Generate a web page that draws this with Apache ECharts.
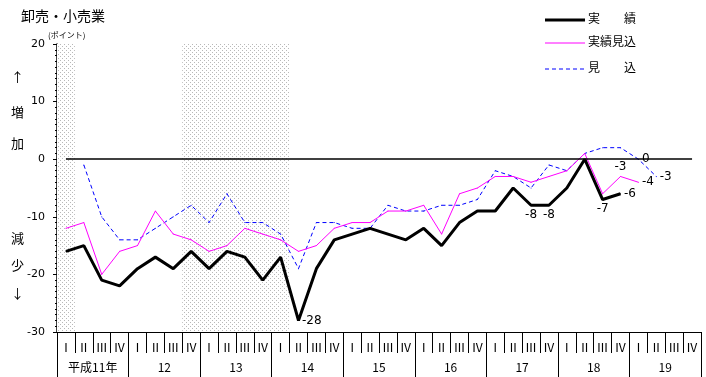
<!DOCTYPE html>
<html>
<head>
<meta charset="utf-8">
<script src="https://cdn.jsdelivr.net/npm/echarts@6/dist/echarts.min.js"></script>
<style>
    html, body { margin: 0; padding: 0; background: #fff; }
    #main { width: 706px; height: 377px; }
</style>
</head>
<body>
<div id="main"></div>
<script>
// 四半期・年のラベル
var quarterNames = ['Ⅰ', 'Ⅱ', 'Ⅲ', 'Ⅳ'];
var yearNames = ['平成11年', '12', '13', '14', '15', '16', '17', '18', '19'];

// 実績 (平成11年Ⅰ ～ 18年Ⅳ)
var jisseki = [-16, -15, -21, -22, -19, -17, -19, -16, -19, -16, -17, -21, -17, -28, -19, -14,
    -13, -12, -13, -14, -12, -15, -11, -9, -9, -5, -8, -8, -5, 0, -7, -6];
// 実績見込 (平成11年Ⅰ ～ 19年Ⅰ)
var jissekiMikomi = [-12, -11, -20, -16, -15, -9, -13, -14, -16, -15, -12, -13, -14, -16, -15, -12,
    -11, -11, -9, -9, -8, -13, -6, -5, -3, -3, -4, -3, -2, 1, -6, -3, -4];
// 見込 (平成11年Ⅱ ～ 19年Ⅱ)
var mikomi = [null, -1, -10, -14, -14, -12, -10, -8, -11, -6, -11, -11, -13, -19, -11, -11,
    -12, -12, -8, -9, -9, -8, -8, -7, -2, -3, -5, -1, -2, 1, 2, 2, 0, -3];

// 網掛け (後退期) 四半期の番号で [開始, 終了)
var shadeRanges = [[0, 1], [7, 13]];

// 数値ラベルを付ける点
var jissekiLabels = { 13: 'right', 26: 'bottom', 27: 'bottom', 30: 'bottom', 31: 'right' };
var jissekiMikomiLabels = { 31: 'top', 32: 'right' };
var mikomiLabels = { 32: 'right', 33: 'right' };

var FONT = '"Noto Sans CJK JP", "DejaVu Sans", sans-serif';

var categories = [];
yearNames.forEach(function () {
    quarterNames.forEach(function (q) { categories.push(q); });
});

function withLabels(values, labels) {
    return values.map(function (v, i) {
        if (labels[i]) {
            return {
                value: v,
                label: {
                    show: true, position: labels[i], distance: 3,
                    formatter: '{c}', color: '#000', fontSize: 12,
                    fontFamily: '"DejaVu Sans", sans-serif'
                }
            };
        }
        return v;
    });
}

// 点々の網掛けパターン
function dotPattern() {
    var c = document.createElement('canvas');
    c.width = 4; c.height = 4;
    var ctx = c.getContext('2d');
    ctx.fillStyle = '#fff';
    ctx.fillRect(0, 0, 4, 4);
    ctx.fillStyle = '#b8b8b8';
    ctx.fillRect(0, 0, 1, 1);
    ctx.fillRect(2, 2, 1, 1);
    return c;
}

var myChart = echarts.init(document.getElementById('main'), null, { renderer: 'canvas' });

function sideText(text, x, y) {
    return {
        text: text, left: x, top: y,
        textStyle: { fontSize: 13, fontWeight: 'normal', color: '#000', fontFamily: FONT }
    };
}

// 凡例 (線と文字)
function legendItem(y, name, style) {
    return [{
        type: 'line',
        shape: { x1: 545, y1: y, x2: 585, y2: y },
        style: style
    }, {
        type: 'text',
        left: 588, top: y - 8,
        style: { text: name, fill: '#000', font: '12px ' + FONT }
    }];
}

var option = {
    animation: false,
    backgroundColor: '#fff',
    title: [{
        text: '卸売・小売業', left: 16, top: 4,
        textStyle: { fontSize: 14, fontWeight: 'normal', color: '#000', fontFamily: FONT }
    }, {
        text: '(ポイント)', left: 43, top: 26,
        textStyle: { fontSize: 8, fontWeight: 'normal', color: '#000', fontFamily: FONT }
    },
        sideText('↑', 6, 66),
        sideText('増', 6, 101),
        sideText('加', 6, 132),
        sideText('減', 6, 227),
        sideText('少', 6, 254),
        sideText('↓', 6, 282)
    ],
    graphic: [].concat(
        legendItem(20, '実　　績', { stroke: '#000', lineWidth: 3 }),
        legendItem(43, '実績見込', { stroke: '#ff00ff', lineWidth: 1 }),
        legendItem(69, '見　　込', { stroke: '#0000ff', lineWidth: 1, lineDash: [4, 3] })
    ),
    grid: { left: 57, right: 5, top: 44, bottom: 45 },
    xAxis: [{
        type: 'category',
        data: categories,
        position: 'bottom',
        axisLine: { onZero: false, lineStyle: { color: '#000', width: 1 } },
        axisTick: { show: true, length: 21, interval: 0, lineStyle: { color: '#000' } },
        axisLabel: { interval: 0, margin: 9, color: '#000', fontSize: 12, fontFamily: FONT }
    }, {
        type: 'category',
        data: yearNames,
        position: 'bottom',
        axisLine: { show: false, onZero: false },
        axisTick: { show: true, length: 45, interval: 0, lineStyle: { color: '#000' } },
        axisLabel: { interval: 0, margin: 29, color: '#000', fontSize: 12, fontFamily: FONT }
    }, {
        type: 'value', min: 0, max: categories.length, show: false
    }],
    yAxis: {
        type: 'value',
        min: -30, max: 20, interval: 10,
        axisLine: { show: true, lineStyle: { color: '#000', width: 1.5 } },
        axisTick: { show: true, length: 4, lineStyle: { color: '#000' } },
        minorTick: { show: true, splitNumber: 10, length: 2, lineStyle: { color: '#000' } },
        splitLine: { show: false },
        axisLabel: { margin: 12, color: '#000', fontSize: 11, fontFamily: '"DejaVu Sans", sans-serif' }
    },
    series: [{
        name: 'shade',
        type: 'line',
        xAxisIndex: 2,
        data: [],
        silent: true,
        markArea: {
            silent: true,
            itemStyle: { color: { image: dotPattern(), repeat: 'repeat' } },
            data: shadeRanges.map(function (r) { return [{ xAxis: r[0] }, { xAxis: r[1] }]; })
        }
    }, {
        name: '見　　込',
        type: 'line',
        data: withLabels(mikomi, mikomiLabels),
        symbol: 'circle', symbolSize: 1, showAllSymbol: true,
        itemStyle: { color: '#0000ff' },
        lineStyle: { color: '#0000ff', width: 1, type: [4, 3] },
        z: 3
    }, {
        name: '実績見込',
        type: 'line',
        data: withLabels(jissekiMikomi, jissekiMikomiLabels),
        symbol: 'circle', symbolSize: 1, showAllSymbol: true,
        itemStyle: { color: '#ff00ff' },
        lineStyle: { color: '#ff00ff', width: 1 },
        z: 4
    }, {
        name: '実　　績',
        type: 'line',
        data: withLabels(jisseki, jissekiLabels),
        symbol: 'circle', symbolSize: 1, showAllSymbol: true,
        itemStyle: { color: '#000' },
        lineStyle: { color: '#000', width: 3 },
        z: 5,
        markLine: {
            silent: true,
            symbol: 'none',
            label: { show: false },
            lineStyle: { color: '#000', width: 1.5, type: 'solid' },
            data: [[{ coord: [0, 0] }, { coord: [categories.length - 1, 0] }]]
        }
    }]
};

myChart.setOption(option);
</script>
</body>
</html>
